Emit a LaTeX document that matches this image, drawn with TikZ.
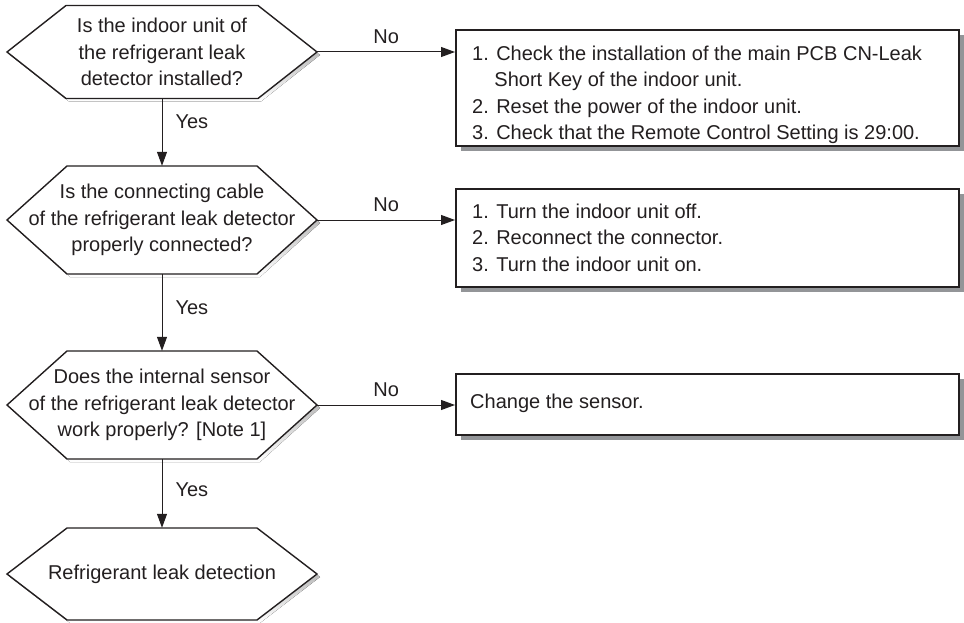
\documentclass[tikz,border=0pt]{standalone}
\usepackage{fontspec}
\setmainfont{Liberation Sans}
\usetikzlibrary{arrows.meta,shadows,calc}
\definecolor{ink}{HTML}{231F20}
\definecolor{shade}{HTML}{939598}
\newcommand\hexq[5]{%
  \fill[shade] (10,#2+3) -- (165-#4,#2-#3+3) -- (165+#4,#2-#3+3) -- (320,#2+3) -- (165+#4,#2+#3+3) -- (165-#4,#2+#3+3) -- cycle;
  \draw[hexline] (7,#2) -- (162-#4,#2-#3) -- (162+#4,#2-#3) -- (317,#2) -- (162+#4,#2+#3) -- (162-#4,#2+#3) -- cycle;
  \node[qtext, minimum height=2*#3 pt] (#1) at (162,#2) {#5};
}
\begin{document}
\begin{tikzpicture}[x=1pt,y=-1pt,
  hexline/.style={draw=ink, line width=1.4pt, fill=white, line join=miter},
  qtext/.style={inner sep=0pt, minimum width=310pt, align=center, font=\fontsize{20}{26.5}\selectfont, text=ink},
  boxnode/.style={draw=ink, line width=1.8pt, fill=white, minimum width=503pt, inner sep=0pt, anchor=north west,
    drop shadow={shadow xshift=5pt, shadow yshift=-5pt, opacity=1, fill=shade}},
  btext/.style={inner sep=0pt, anchor=north west, align=left, font=\fontsize{20}{26.5}\selectfont, text=ink},
  arr/.style={draw=ink, line width=1pt, -{Triangle[length=14pt,width=10pt]}},
  lbl/.style={inner sep=0pt, font=\fontsize{20}{24}\selectfont, text=ink}]
\useasboundingbox (0,0) rectangle (964,623);

% decision hexagons
\hexq{q1}{52}{46.5}{96}{Is the indoor unit of\\the refrigerant leak\\detector installed?}
\hexq{q2}{220}{54}{95}{Is the connecting cable\\of the refrigerant leak detector\\properly connected?}
\hexq{q3}{405}{54}{95}{Does the internal sensor\\of the refrigerant leak detector\\work properly? [Note 1]}
\hexq{q4}{574}{46}{95}{Refrigerant leak detection}

% action boxes
\node[boxnode, minimum height=116pt] (b1) at (455,29) {};
\node[boxnode, minimum height=98pt] (b2) at (455,188) {};
\node[boxnode, minimum height=61pt] (b3) at (455,373) {};

\node[btext] (b1t) at (472,45.5) {1. Check the installation of the main PCB CN-Leak\\
\phantom{1.\ }Short Key of the indoor unit.\\
2. Reset the power of the indoor unit.\\
3. Check that the Remote Control Setting is 29:00.};
\node[btext] (b2t) at (472,203.5) {1. Turn the indoor unit off.\\
2. Reconnect the connector.\\
3. Turn the indoor unit on.};
\node[btext] (b3t) at (470,393.5) {Change the sensor.};

% Yes connectors
\draw[arr] (q1.south) -- node[lbl, pos=0.35, right=13pt] {Yes} (q2.north);
\draw[arr] (q2.south) -- node[lbl, pos=0.44, right=13pt] {Yes} (q3.north);
\draw[arr] (q3.south) -- node[lbl, pos=0.45, right=13pt] {Yes} (q4.north);

% No connectors
\draw[arr] (q1.east) -- node[lbl, above=8pt] {No} (q1.east -| b1.west);
\draw[arr] (q2.east) -- node[lbl, above=8pt] {No} (q2.east -| b2.west);
\draw[arr] (q3.east) -- node[lbl, above=8pt] {No} (q3.east -| b3.west);
\end{tikzpicture}
\end{document}
